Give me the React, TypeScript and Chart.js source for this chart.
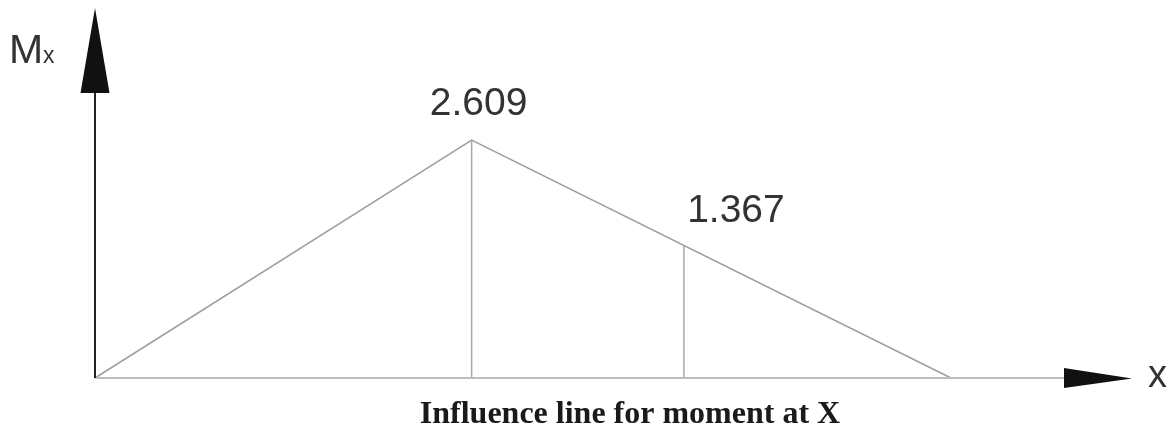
import { useEffect, useRef } from "react";
import { Chart, registerables } from "chart.js";
Chart.register(...registerables);

// Beam stations (m) and influence-line ordinates as drawn
const stations = [0, 4.4, 10];
const ordinates = [0, 2.609, 0];
// Ordinate markers (vertical lines) and their value labels
const markerX = [4.4, 6.88];
const markerY = [2.609, 1.447];
const markerLabels = ["2.609", "1.367"];
const caption = "Influence line for moment at X";

const SANS = '"Liberation Sans", Arial, sans-serif';
const SERIF = '"Liberation Serif", "Times New Roman", serif';

const decorPlugin = {
  id: "decor",
  afterDraw(chart: any) {
    const ctx = chart.ctx as CanvasRenderingContext2D;
    const xs = chart.scales.x;
    const ys = chart.scales.y;
    const ox = xs.getPixelForValue(0);
    const oy = ys.getPixelForValue(0);
    ctx.save();
    // x axis (gray) + arrow
    ctx.strokeStyle = "#bdbdbd";
    ctx.lineWidth = 2;
    ctx.beginPath();
    ctx.moveTo(ox, oy);
    ctx.lineTo(ox + 970, oy);
    ctx.stroke();
    ctx.fillStyle = "#111";
    ctx.beginPath();
    ctx.moveTo(ox + 969, oy - 10);
    ctx.lineTo(ox + 1037, oy + 0.5);
    ctx.lineTo(ox + 969, oy + 10);
    ctx.closePath();
    ctx.fill();
    // y axis (dark) + arrow
    ctx.strokeStyle = "#222";
    ctx.lineWidth = 2;
    ctx.beginPath();
    ctx.moveTo(ox, oy);
    ctx.lineTo(ox, oy - 290);
    ctx.stroke();
    ctx.beginPath();
    ctx.moveTo(ox - 14.5, oy - 285);
    ctx.lineTo(ox, oy - 370);
    ctx.lineTo(ox + 14.5, oy - 285);
    ctx.closePath();
    ctx.fill();
    // axis labels
    ctx.fillStyle = "#333";
    ctx.textBaseline = "alphabetic";
    ctx.textAlign = "left";
    ctx.font = `41px ${SANS}`;
    ctx.fillText("M", ox - 86, oy - 315);
    ctx.font = `23px ${SANS}`;
    ctx.fillText("x", ox - 52, oy - 315);
    ctx.font = `38px ${SANS}`;
    ctx.fillText("x", ox + 1053, oy + 9);
    // value labels
    ctx.textAlign = "center";
    ctx.font = `39px ${SANS}`;
    const offs = [
      [7, -25],
      [52, -24],
    ];
    markerX.forEach((mx, i) => {
      const px = xs.getPixelForValue(mx);
      const py = ys.getPixelForValue(markerY[i]);
      ctx.fillText(markerLabels[i], px + offs[i][0], py + offs[i][1]);
    });
    // caption
    ctx.fillStyle = "#1a1a1a";
    ctx.font = `bold 32px ${SERIF}`;
    ctx.fillText(caption, 630, 423);
    ctx.restore();
  },
};

export default function App() {
  const ref = useRef<HTMLCanvasElement>(null);
  useEffect(() => {
    if (!ref.current) return;
    const lineStyle = {
      borderColor: "#9e9e9e",
      borderWidth: 1.5,
      pointRadius: 0,
      showLine: true,
      fill: false,
      tension: 0,
      clip: false as any,
    };
    const chart = new Chart(ref.current, {
      type: "scatter",
      data: {
        datasets: [
          {
            label: "Influence line",
            data: stations.map((s, i) => ({ x: s, y: ordinates[i] })),
            ...lineStyle,
          },
          ...markerX.map((mx, i) => ({
            label: "Ordinate " + markerLabels[i],
            data: [
              { x: mx, y: 0 },
              { x: mx, y: markerY[i] },
            ],
            ...lineStyle,
            borderColor: "#a8a8a8",
          })),
        ],
      },
      options: {
        animation: false,
        responsive: false,
        layout: { padding: { left: 95, right: 220, top: 140, bottom: 50 } },
        plugins: { legend: { display: false }, tooltip: { enabled: false } },
        scales: {
          x: { type: "linear", min: 0, max: 10, display: false },
          y: { type: "linear", min: 0, max: 2.609, display: false },
        },
      },
      plugins: [decorPlugin],
    });
    return () => chart.destroy();
  }, []);
  return (
    <div style={{ position: "absolute", left: 0, top: 0, width: 1171, height: 428, background: "#fff" }}>
      <canvas ref={ref} width={1171} height={428} />
    </div>
  );
}
